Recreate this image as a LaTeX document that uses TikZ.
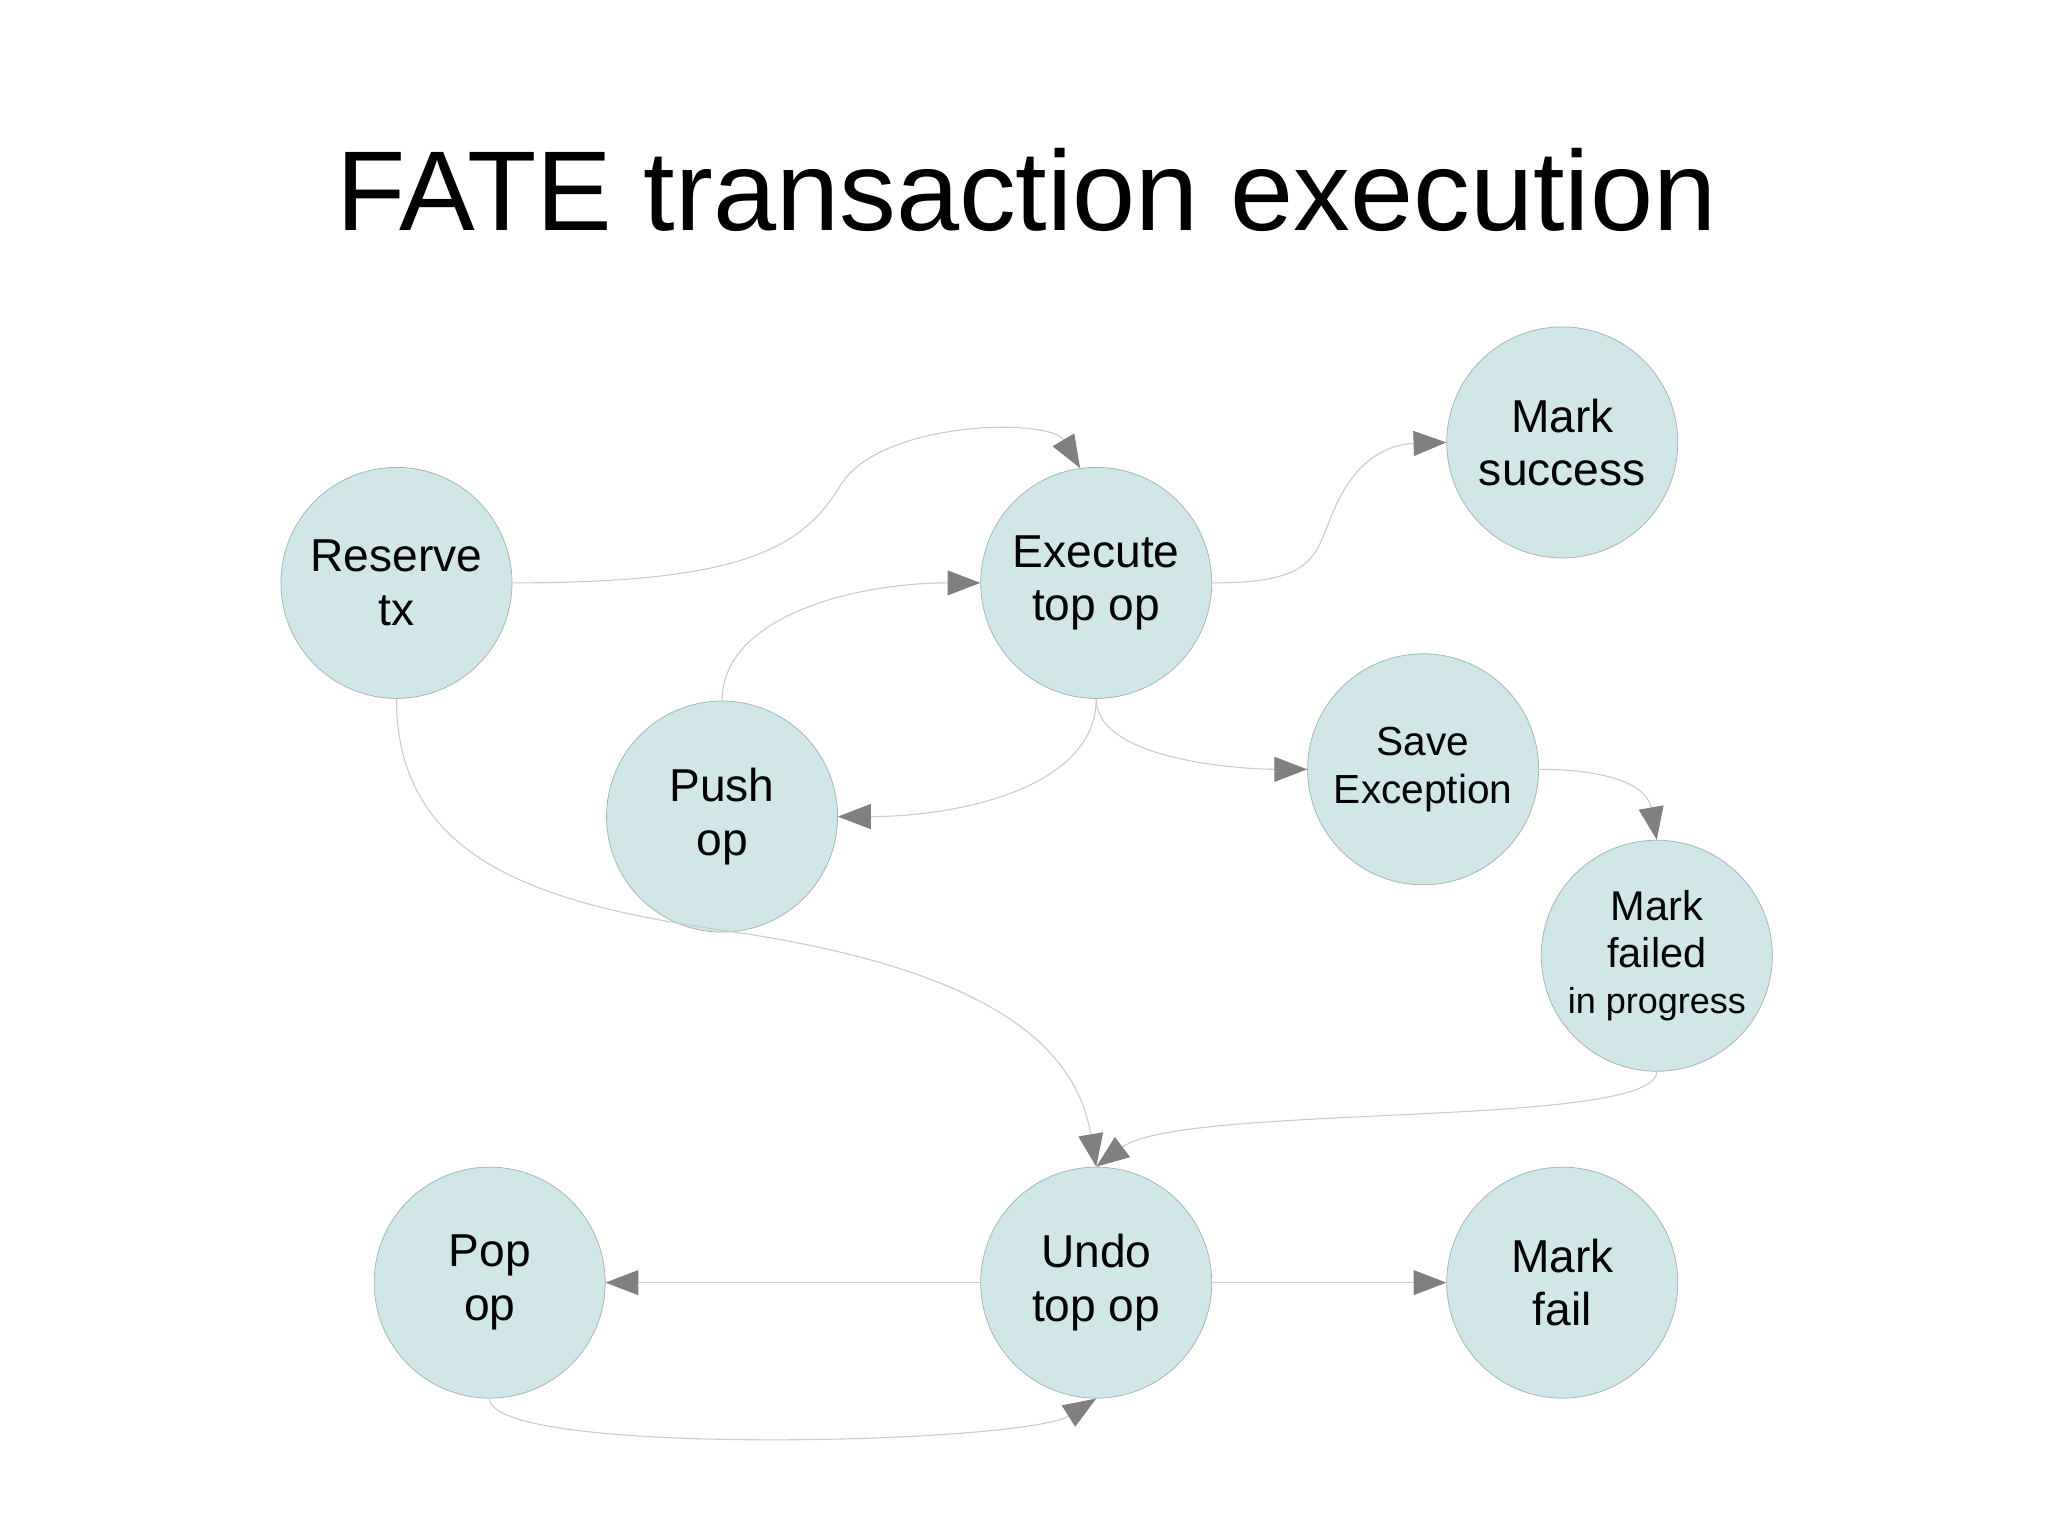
\documentclass[tikz,border=0pt]{standalone}
\usepackage{fontspec}
\setmainfont{Liberation Sans}
\usetikzlibrary{arrows.meta}
\definecolor{nodefill}{HTML}{D1E6E6}
\definecolor{nodeline}{HTML}{A3B5B3}
\definecolor{edgecol}{HTML}{CCCCCC}
\definecolor{tipcol}{HTML}{808080}
\begin{document}
\begin{tikzpicture}[x=0.05cm,y=-0.05cm,
  st/.style={circle,fill=nodefill,draw=nodeline,line width=0.8pt,minimum size=8.8cm,inner sep=0pt,align=center,font=\fontsize{50}{58}\selectfont},
  ed/.style={draw=edgecol,line width=1.2pt,-{Triangle[length=1.25cm,width=0.95cm,fill=tipcol,color=tipcol]}}]
\useasboundingbox (0,0) rectangle (1560,1169);
\node (title) at (782,145) {\fontsize{123}{140}\selectfont FATE transaction execution};
\node[st] (res) at (302,444) {Reserve\\tx};
\node[st] (exe) at (835,444) {Execute\\top op};
\node[st] (ms) at (1190,337) {Mark\\success};
\node[st] (push) at (550,622) {Push\\op};
\node[st,font=\fontsize{44}{52}\selectfont] (save) at (1084,586) {Save\\Exception};
\node[st,font=\fontsize{45}{50}\selectfont] (mfp) at (1262,728) {Mark\\failed\\{\fontsize{39}{50}\selectfont in progress}};
\node[st] (pop) at (373,977) {Pop\\op};
\node[st] (undo) at (835,977) {Undo\\top op};
\node[st] (mf) at (1190,977) {Mark\\fail};
\draw[ed] (res.east) .. controls (560,444) and (610,420) .. (640,370) .. controls (670,320) and (800,318) .. (exe.90+8);
\draw[ed] (exe.east) .. controls (1010,444) and (1000,420) .. (1020,380) .. controls (1040,340) and (1070,338) .. (ms.west);
\draw[ed] (push.north) .. controls (550,470) and (650,444) .. (exe.west);
\draw[ed] (exe.south) .. controls (835,600) and (730,622) .. (push.east);
\draw[ed] (exe.south) .. controls (835,580) and (950,586) .. (save.west);
\draw[ed] (save.east) .. controls (1230,586) and (1255,600) .. (mfp.north);
\draw[ed] (mfp.south) .. controls (1262,860) and (900,840) .. (undo.north);
\draw[ed] (res.south) .. controls (302,660) and (420,690) .. (560,710) .. controls (760,740) and (820,800) .. (undo.north);
\draw[ed] (undo.west) -- (pop.east);
\draw[ed] (undo.east) -- (mf.west);
\draw[ed] (pop.south) .. controls (373,1110) and (780,1100) .. (undo.south);
\end{tikzpicture}
\end{document}
